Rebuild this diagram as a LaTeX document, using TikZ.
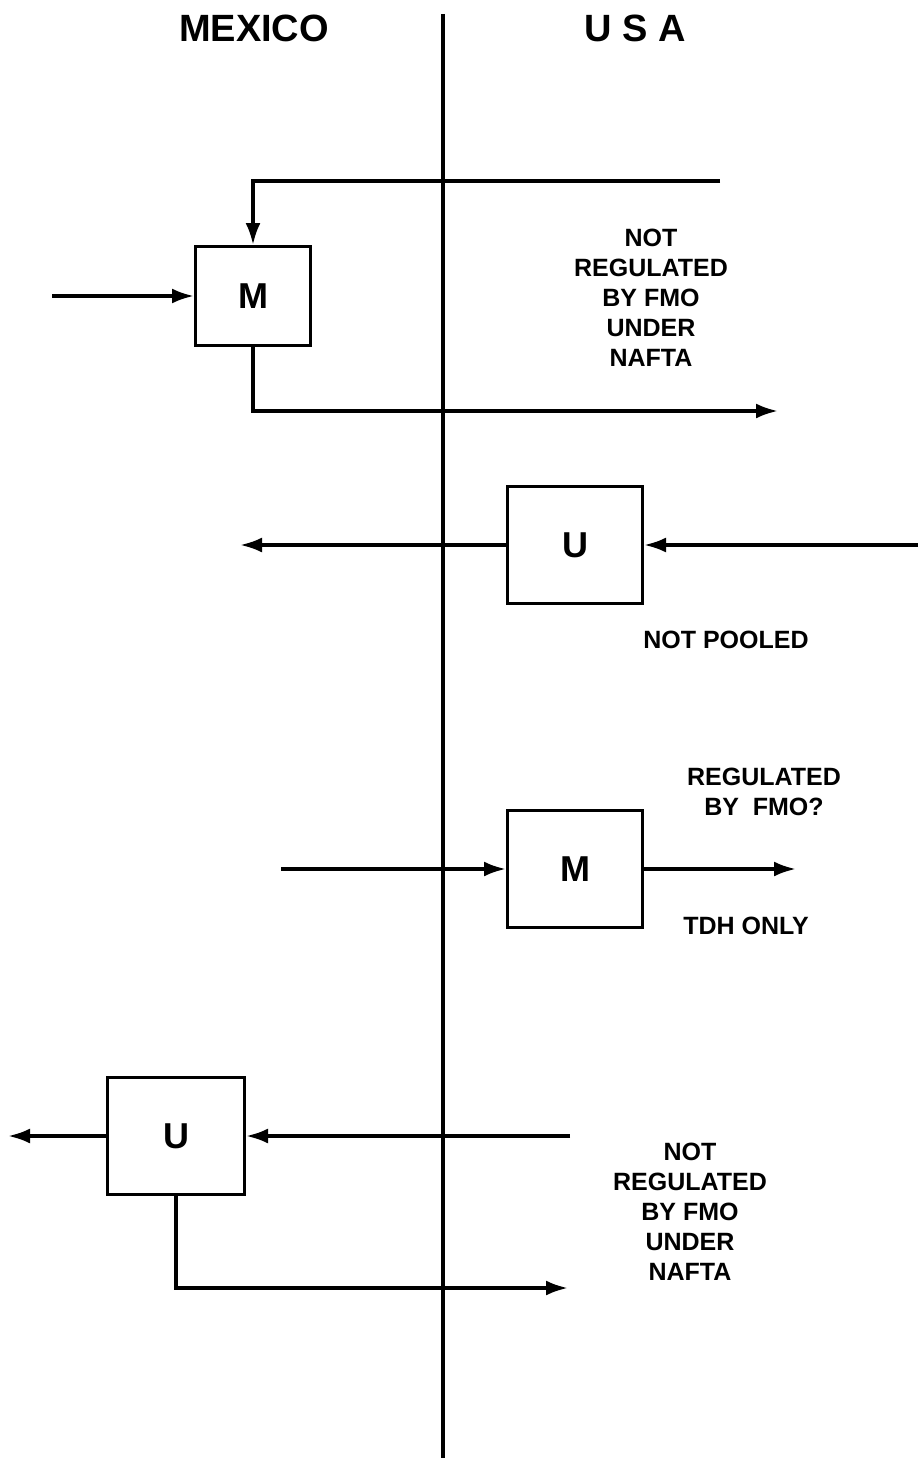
\documentclass[tikz,border=0pt]{standalone}
\usepackage{fontspec}
\setmainfont{Liberation Sans}
\usetikzlibrary{positioning,arrows.meta}

\begin{document}
\begin{tikzpicture}[x=1pt,y=-1pt,
  flow/.style={line width=3.5pt,-{Latex[length=22pt,width=15pt]}},
  border/.style={line width=3.5pt},
  blk/.style={draw,line width=3pt,font=\bfseries\fontsize{36}{36}\selectfont},
  head/.style={font=\bfseries\fontsize{38}{38}\selectfont},
  note/.style={align=center,font=\bfseries\fontsize{25}{30}\selectfont}]
\useasboundingbox (0,0) rectangle (918,1458);

\node (mx) [head] at (254,28) {MEXICO};
\node (us) [head] at (635,28) {U S A};
\coordinate (btop) at (443,14);
\coordinate (bbot) at (443,1458);
\draw[border] (btop) -- (bbot);

% mexican milk, returned
\node (m1) [blk,minimum width=115pt,minimum height=99pt] at (253,296) {M};
\coordinate (m1in) at (52,296);
\coordinate (m1back) at (720,181);
\coordinate (m1out) at (778,411);
\draw[flow] (m1in) -- (m1);
\draw[flow] (m1back) -| (m1);
\draw[flow] (m1) |- (m1out);
\node (n1) [note] at (651,298) {NOT\\REGULATED\\BY FMO\\UNDER\\NAFTA};

% us milk to mexico
\node (u1) [blk,minimum width=135pt,minimum height=117pt] at (575,545) {U};
\coordinate (u1in) at (918,545);
\coordinate (u1out) at (240,545);
\draw[flow] (u1in) -- (u1);
\draw[flow] (u1) -- (u1out);
\node (np) [note] at (726,640) {NOT POOLED};

% mexican milk into us
\node (m2) [blk,minimum width=135pt,minimum height=117pt] at (575,869) {M};
\coordinate (m2in) at (281,869);
\coordinate (m2out) at (796,869);
\draw[flow] (m2in) -- (m2);
\draw[flow] (m2) -- (m2out);
\node (rg) [note] at (764,792) {REGULATED\\BY\ \ FMO?};
\node (tdh) [note] at (746,926) {TDH ONLY};

% us milk, returned
\node (u2) [blk,minimum width=137pt,minimum height=117pt] at (176,1136) {U};
\coordinate (u2in) at (570,1136);
\coordinate (u2out) at (8,1136);
\coordinate (u2back) at (568,1288);
\draw[flow] (u2in) -- (u2);
\draw[flow] (u2) -- (u2out);
\draw[flow] (u2) |- (u2back);
\node (n2) [note] at (690,1212) {NOT\\REGULATED\\BY FMO\\UNDER\\NAFTA};
\end{tikzpicture}
\end{document}
